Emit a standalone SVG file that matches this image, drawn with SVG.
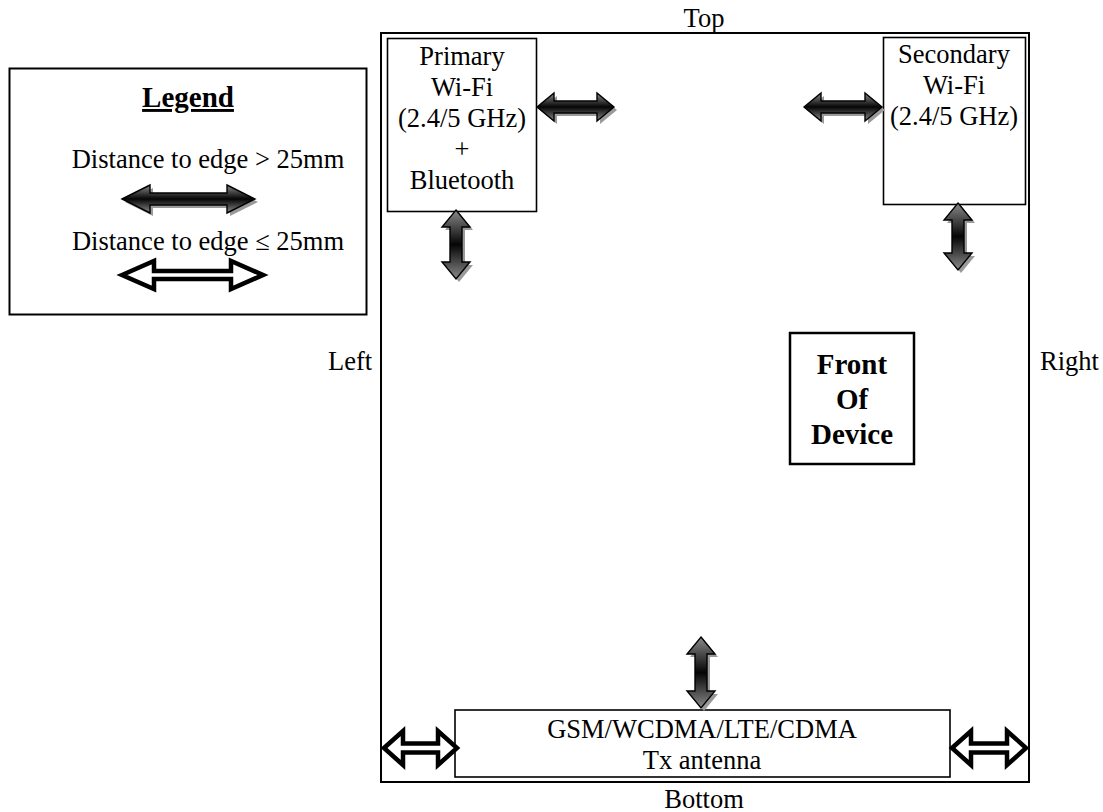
<svg xmlns="http://www.w3.org/2000/svg" width="1103" height="812" viewBox="0 0 1103 812">
<style>
text{font-family:"Liberation Serif","Times New Roman",serif;font-size:26.5px;fill:#000}
.c{text-anchor:middle}
.b{font-weight:bold;font-size:29px}
.box{fill:#fff;stroke:#000;stroke-width:1.6}
.ga{fill:url(#grad);stroke:#000;stroke-width:1.4;stroke-linejoin:miter}
.sh{fill:#9a9a9a}
.oa{fill:#fff;stroke:#000;stroke-width:4.5;stroke-linejoin:miter}
</style>
<defs>
<linearGradient id="grad" x1="0" y1="0" x2="0" y2="1">
<stop offset="0" stop-color="#8a8a8a"/>
<stop offset="0.5" stop-color="#050505"/>
<stop offset="1" stop-color="#8a8a8a"/>
</linearGradient>
</defs>
<rect width="1103" height="812" fill="#fff"/>

<g id="device">
<rect x="381" y="33" width="648" height="749" fill="#fff" stroke="#000" stroke-width="2"/>
<text class="c" x="704" y="27">Top</text>
<text class="c" x="704" y="808">Bottom</text>
<text x="328" y="370">Left</text>
<text x="1040" y="370">Right</text>
</g>

<g id="legend">
<rect x="9.5" y="68.5" width="357" height="246" fill="#fff" stroke="#000" stroke-width="2"/>
<text class="c b" x="188" y="107" text-decoration="underline">Legend</text>
<text class="c" x="208" y="168">Distance to edge &gt; 25mm</text>
<text class="c" x="208" y="250">Distance to edge ≤ 25mm</text>
</g>

<g id="primary">
<rect class="box" x="387.5" y="38.5" width="149" height="173"/>
<text class="c" x="462" y="65">Primary</text>
<text class="c" x="462" y="96">Wi-Fi</text>
<text class="c" x="462" y="127">(2.4/5 GHz)</text>
<text class="c" x="462" y="158">+</text>
<text class="c" x="462" y="189">Bluetooth</text>
</g>

<g id="secondary">
<rect class="box" x="883.5" y="37.5" width="142" height="167"/>
<text class="c" x="954" y="63">Secondary</text>
<text class="c" x="954" y="94">Wi-Fi</text>
<text class="c" x="954" y="125">(2.4/5 GHz)</text>
</g>

<g id="front">
<rect x="790" y="333" width="124" height="131" fill="#fff" stroke="#000" stroke-width="2.5"/>
<text class="c b" x="852" y="374">Front</text>
<text class="c b" x="852" y="409">Of</text>
<text class="c b" x="852" y="444">Device</text>
</g>

<g id="gsm">
<rect class="box" x="455" y="710" width="495" height="67"/>
<text class="c" x="702" y="738">GSM/WCDMA/LTE/CDMA</text>
<text class="c" x="702" y="769">Tx antenna</text>
</g>

<g id="connectors">
<g transform="translate(3,3)">
<polygon class="sh" points="537,107 554,93 554,101 597,101 597,93 614,107 597,121 597,113 554,113 554,121"/>
<polygon class="sh" points="804,107 821,93 821,101 865,101 865,93 882,107 865,121 865,113 821,113 821,121"/>
<polygon class="sh" points="122,199 150,185 150,193 227,193 227,185 255,199 227,213 227,205 150,205 150,213"/>
<polygon class="sh" points="456,210 470,227 462,227 462,262 470,262 456,279 442,262 450,262 450,227 442,227"/>
<polygon class="sh" points="958,203 972,220 964,220 964,253 972,253 958,270 944,253 952,253 952,220 944,220"/>
<polygon class="sh" points="701,637 715,654 707,654 707,691 715,691 701,708 687,691 695,691 695,654 687,654"/>
</g>
<polygon class="ga" points="537,107 554,93 554,101 597,101 597,93 614,107 597,121 597,113 554,113 554,121"/>
<polygon class="ga" points="804,107 821,93 821,101 865,101 865,93 882,107 865,121 865,113 821,113 821,121"/>
<polygon class="ga" points="122,199 150,185 150,193 227,193 227,185 255,199 227,213 227,205 150,205 150,213"/>
<polygon class="ga" points="456,210 470,227 462,227 462,262 470,262 456,279 442,262 450,262 450,227 442,227"/>
<polygon class="ga" points="958,203 972,220 964,220 964,253 972,253 958,270 944,253 952,253 952,220 944,220"/>
<polygon class="ga" points="701,637 715,654 707,654 707,691 715,691 701,708 687,691 695,691 695,654 687,654"/>
<polygon class="oa" points="122,275 154,261 154,271 231,271 231,261 263,275 231,289 231,279 154,279 154,289"/>
<polygon class="oa" points="384,748 403,731 403,743.5 438,743.5 438,731 457,748 438,765 438,752.5 403,752.5 403,765"/>
<polygon class="oa" points="952,748 971,731 971,743.5 1007,743.5 1007,731 1026,748 1007,765 1007,752.5 971,752.5 971,765"/>
</g>
</svg>
